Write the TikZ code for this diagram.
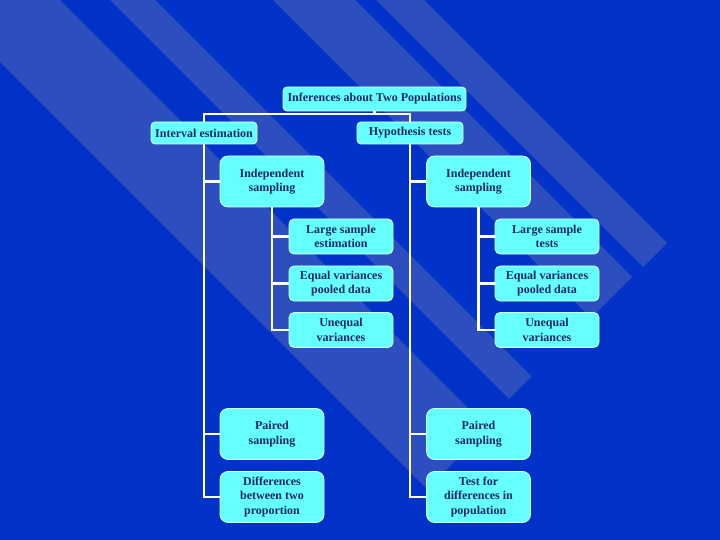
\documentclass[tikz,border=0pt]{standalone}
\usepackage{fontspec}
\setmainfont{Liberation Serif}

\definecolor{bgblue}{RGB}{2,50,200}
\definecolor{bandblue}{RGB}{44,78,190}
\definecolor{boxfill}{RGB}{102,255,255}
\definecolor{boxline}{RGB}{215,255,255}
\definecolor{boxtext}{RGB}{22,38,105}

\begin{document}
\begin{tikzpicture}[x=1bp, y=-1bp, every node/.style={font=\fontsize{12bp}{14.5bp}\selectfont\bfseries, text=boxtext}]
		\tikzstyle{box}=[draw=boxline, line width=0.8bp, fill=boxfill, rounded corners=4bp, align=center, inner sep=0pt]
		\tikzstyle{bigbox}=[box, rounded corners=8bp, minimum width=104bp, minimum height=51bp]
		\tikzstyle{subbox}=[box, rounded corners=5bp, minimum width=104bp, minimum height=35bp]
		\tikzstyle{link}=[draw=white, line width=2.5bp]
		\tikzstyle{band}=[fill=bandblue]

    % Background and stripes
		\useasboundingbox (0,0) rectangle (720,540);
		\fill[bgblue] (0,0) rectangle (720,540);
		\begin{scope}
			\clip (0,0) rectangle (720,540);
			\fill[band] (-100,-38) -- (427,489) -- (488,428) -- (-40,-100) -- cycle;
			\fill[band] (100,-10) -- (509,399) -- (531.5,376.5) -- (145,-10) -- cycle;
			\fill[band] (263,-10) -- (591,318) -- (632,277) -- (345,-10) -- cycle;
			\fill[band] (366,-10) -- (643,267) -- (667,243) -- (414,-10) -- cycle;
		\end{scope}

    % Top
		\node[box, minimum width=183bp, minimum height=24bp](root) at (374.5,99){Inferences about Two Populations};
		\node[box, minimum width=106bp, minimum height=22bp](interval) at (204,133){Interval estimation};
		\node[box, minimum width=106bp, minimum height=22bp](hyp) at (410,133){Hypothesis tests};

    % Interval estimation branch
		\node[bigbox](indepL) at (272,181.5){Independent\\sampling};
		\node[subbox](largeL) at (341,236.5){Large sample\\estimation};
		\node[subbox](equalL) at (341,283.5){Equal variances\\pooled data};
		\node[subbox](uneqL) at (341,330){Unequal\\variances};
		\node[bigbox](pairedL) at (272,434){Paired\\sampling};
		\node[bigbox](diffL) at (272,497){Differences\\between two\\proportion};

    % Hypothesis tests branch
		\node[bigbox](indepR) at (478.5,181.5){Independent\\sampling};
		\node[subbox](largeR) at (547,236.5){Large sample\\tests};
		\node[subbox](equalR) at (547,283.5){Equal variances\\pooled data};
		\node[subbox](uneqR) at (547,330){Unequal\\variances};
		\node[bigbox](pairedR) at (478.5,434){Paired\\sampling};
		\node[bigbox](diffR) at (478.5,497){Test for\\differences in\\population};

		\draw[link] (root.south) -- ++(0,2.5) coordinate (bus);
		\draw[link] (interval.north) |- (bus) -| (hyp.north);

		\draw[link] (interval.south) |- (diffL.west);
		\draw[link] (interval.south |- indepL.west) -- (indepL.west);
		\draw[link] (interval.south |- pairedL.west) -- (pairedL.west);

		\draw[link] (indepL.south) |- (uneqL.west);
		\draw[link] (indepL.south |- largeL.west) -- (largeL.west);
		\draw[link] (indepL.south |- equalL.west) -- (equalL.west);

		\draw[link] (hyp.south) |- (diffR.west);
		\draw[link] (hyp.south |- indepR.west) -- (indepR.west);
		\draw[link] (hyp.south |- pairedR.west) -- (pairedR.west);

		\draw[link] (indepR.south) |- (uneqR.west);
		\draw[link] (indepR.south |- largeR.west) -- (largeR.west);
		\draw[link] (indepR.south |- equalR.west) -- (equalR.west);
  \end{tikzpicture}
\end{document}
